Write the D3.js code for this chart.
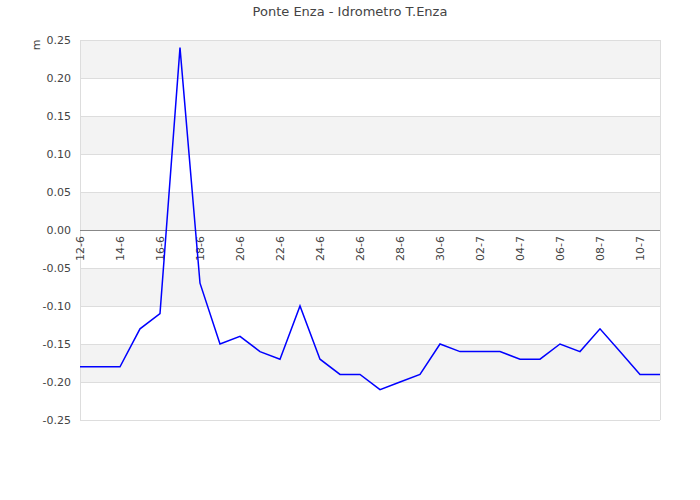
<!DOCTYPE html>
<html><head><meta charset="utf-8">
<script src="https://cdn.jsdelivr.net/npm/d3@7"></script>
<style>body{margin:0;background:#fff;font-family:"DejaVu Sans",sans-serif;}</style>
</head><body><svg id="c" width="700" height="500"></svg>
<script>
const dates = ["12-6","13-6","14-6","15-6","16-6","17-6","18-6","19-6","20-6","21-6","22-6","23-6","24-6","25-6","26-6","27-6","28-6","29-6","30-6","01-7","02-7","03-7","04-7","05-7","06-7","07-7","08-7","09-7","10-7","11-7"];
const levels = [-0.18,-0.18,-0.18,-0.13,-0.11,0.24,-0.07,-0.15,-0.14,-0.16,-0.17,-0.10,-0.17,-0.19,-0.19,-0.21,-0.20,-0.19,-0.15,-0.16,-0.16,-0.16,-0.17,-0.17,-0.15,-0.16,-0.13,-0.16,-0.19,-0.19];
const yTicks = [0.25,0.20,0.15,0.10,0.05,0.00,-0.05,-0.10,-0.15,-0.20,-0.25];
const title = "Ponte Enza - Idrometro T.Enza";
const unit = "m";

const svg = d3.select("#c");
const L=80,R=660,T=40,B=420;
const x = d3.scaleLinear().domain([0,dates.length-1]).range([L,R]);
const y = d3.scaleLinear().domain([-0.25,0.25]).range([B,T]);

// bands
for(let i=0;i<yTicks.length-1;i++){
  svg.append("rect").attr("x",L).attr("width",R-L)
    .attr("y",y(yTicks[i])).attr("height",y(yTicks[i+1])-y(yTicks[i]))
    .attr("fill", i%2===0 ? "#f3f3f3" : "#ffffff");
}
// grid
svg.append("g").selectAll("line").data(yTicks).join("line")
  .attr("x1",L).attr("x2",R).attr("y1",d=>Math.round(y(d))+0.5).attr("y2",d=>Math.round(y(d))+0.5)
  .attr("stroke","#dddddd").attr("stroke-width",1);
// border
svg.append("line").attr("x1",L+0.5).attr("x2",L+0.5).attr("y1",T).attr("y2",B).attr("stroke","#dddddd");
svg.append("line").attr("x1",R+0.5).attr("x2",R+0.5).attr("y1",T).attr("y2",B).attr("stroke","#dddddd");
// zero line
svg.append("line").attr("x1",L).attr("x2",R).attr("y1",y(0)+0.5).attr("y2",y(0)+0.5).attr("stroke","#888888");

// y labels
svg.append("g").selectAll("text").data(yTicks).join("text")
  .attr("x",71).attr("y",d=>y(d)+4).attr("text-anchor","end")
  .attr("font-size",11).attr("fill","#444").text(d=>d.toFixed(2));
svg.append("text").attr("transform","translate(40,45) rotate(-90)").attr("text-anchor","middle")
  .attr("font-size",11).attr("fill","#444").text(unit);

// x labels
svg.append("g").selectAll("text").data(dates.filter((d,i)=>i%2===0 && i<dates.length-1)).join("text")
  .attr("transform",(d)=>`translate(${x(dates.indexOf(d))+4},236) rotate(-90)`)
  .attr("text-anchor","end").attr("font-size",11).attr("fill","#444").text(d=>d);

// line
svg.append("path").datum(levels)
  .attr("d",d3.line().x((d,i)=>x(i)).y(d=>y(d)))
  .attr("fill","none").attr("stroke","#0000ff").attr("stroke-width",1.5);

svg.append("text").attr("x",350).attr("y",16).attr("text-anchor","middle")
  .attr("font-size",13).attr("fill","#444").text(title);
</script></body></html>
